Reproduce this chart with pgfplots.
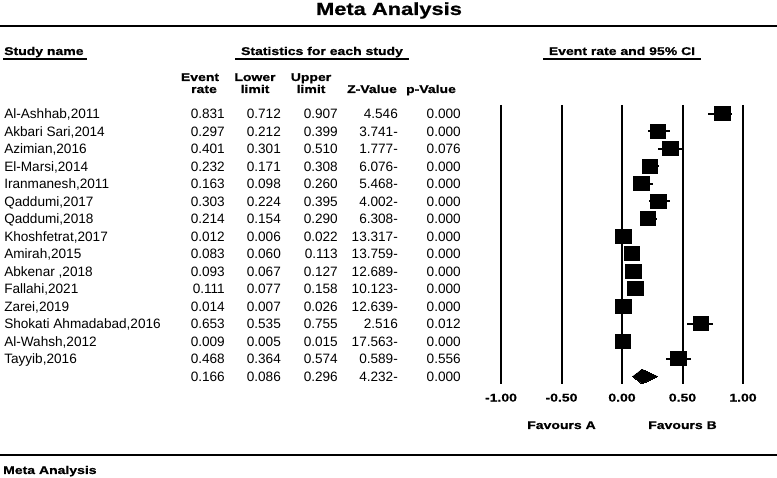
\documentclass[border=0pt]{standalone}
\usepackage{fontspec}
\setmainfont{Liberation Sans}
\newfontfamily\wide[FakeStretch=1.25, FakeBold=0.8]{Liberation Sans}
\usepackage{pgfplots}
\usepackage{pgfplotstable}
\pgfplotsset{compat=1.18}

\newcommand\rg{\fontsize{13.6pt}{16pt}\selectfont}
\newcommand\hb{\wide\bfseries\fontsize{11.2pt}{12pt}\selectfont}

% one row per study, last row = pooled estimate
\pgfplotstableread[col sep=semicolon]{
name;er;ll;ul;z;p
Al-Ashhab,2011;0.831;0.712;0.907;4.546;0.000
Akbari Sari,2014;0.297;0.212;0.399;3.741-;0.000
Azimian,2016;0.401;0.301;0.510;1.777-;0.076
El-Marsi,2014;0.232;0.171;0.308;6.076-;0.000
Iranmanesh,2011;0.163;0.098;0.260;5.468-;0.000
Qaddumi,2017;0.303;0.224;0.395;4.002-;0.000
Qaddumi,2018;0.214;0.154;0.290;6.308-;0.000
Khoshfetrat,2017;0.012;0.006;0.022;13.317-;0.000
Amirah,2015;0.083;0.060;0.113;13.759-;0.000
Abkenar ,2018;0.093;0.067;0.127;12.689-;0.000
Fallahi,2021;0.111;0.077;0.158;10.123-;0.000
Zarei,2019;0.014;0.007;0.026;12.639-;0.000
Shokati Ahmadabad,2016;0.653;0.535;0.755;2.516;0.012
Al-Wahsh,2012;0.009;0.005;0.015;17.563-;0.000
Tayyib,2016;0.468;0.364;0.574;0.589-;0.556
;0.166;0.086;0.296;4.232-;0.000
}\studies

% text column: meta column, x position, anchor
\newcommand\textcol[3]{%
  \addplot[draw=none, forget plot, point meta=explicit symbolic,
    nodes near coords,
    nodes near coords style={anchor=#3, inner sep=0pt, yshift=-5pt, font=\rg}]
    table[x expr=#2, y expr=\coordindex+1, meta=#1] {\studies};}

\begin{document}
\begin{tikzpicture}
\useasboundingbox (0,0) rectangle (777pt,478pt);
\begin{axis}[
    at={(0,0)}, anchor=south west,
    scale only axis, width=777pt, height=478pt,
    xmin=-5.1405, xmax=1.2810,
    ymin=-5.5143, ymax=21.8, y dir=reverse,
    hide axis, clip=false]

  % reference lines
  \pgfplotsinvokeforeach{-1,-0.5,0,0.5,1}{
    \addplot[black, line width=2pt, forget plot] coordinates {(#1,0.4857) (#1,16.4286)};
  }

  % study squares with CI whiskers
  \addplot[only marks, mark=square*, mark size=7pt,
    mark options={xscale=1.12, fill=black, draw=black, line width=0pt},
    skip coords between index={15}{16},
    error bars/.cd, x dir=both, x explicit, error mark=none,
    error bar style={line width=2pt, black}]
    table[x=er, y expr=\coordindex+1,
      x error minus expr=\thisrow{er}-\thisrow{ll},
      x error plus expr=\thisrow{ul}-\thisrow{er}] {\studies};

  % pooled diamond
  \addplot[fill=black, draw=black, line width=0pt]
    coordinates {(0.086,16) (0.166,15.58) (0.296,16) (0.166,16.42)} --cycle;

  \textcol{name}{-5.107}{base west}
  \textcol{er}{-3.281}{base east}
  \textcol{ll}{-2.818}{base east}
  \textcol{ul}{-2.347}{base east}
  \textcol{z}{-1.851}{base east}
  \textcol{p}{-1.331}{base east}

  \node[font=\hb, anchor=base] at (axis cs:-1,17.43) {-1.00};
  \node[font=\hb, anchor=base] at (axis cs:-0.5,17.43) {-0.50};
  \node[font=\hb, anchor=base] at (axis cs:0,17.43) {0.00};
  \node[font=\hb, anchor=base] at (axis cs:0.5,17.43) {0.50};
  \node[font=\hb, anchor=base] at (axis cs:1,17.43) {1.00};
  \node[font=\hb, anchor=base] at (axis cs:-0.5,19.0) {Favours A};
  \node[font=\hb, anchor=base] at (axis cs:0.5,19.0) {Favours B};
\end{axis}

\begin{scope}[x=1pt, y=-1pt, yshift=478pt]
  \node[font=\wide\bfseries\fontsize{17.5pt}{20pt}\selectfont, anchor=base, inner sep=0pt] at (389,15) {Meta Analysis};
  \draw[line width=2.5pt] (0,26) -- (777,26);

  \node[font=\hb, anchor=base west, inner sep=0pt] at (4,55) {Study name};
  \draw[line width=1.5pt] (3,59) -- (87,59);
  \node[font=\hb, anchor=base, inner sep=0pt] at (322,55) {Statistics for each study};
  \draw[line width=1.5pt] (235,59) -- (409,59);
  \node[font=\hb, anchor=base, inner sep=0pt] at (622,55) {Event rate and 95\% CI};
  \draw[line width=1.5pt] (543,59) -- (701,59);

  \node[font=\hb, anchor=base, inner sep=0pt] at (200,81) {Event};
  \node[font=\hb, anchor=base, inner sep=0pt] at (204,93) {rate};
  \node[font=\hb, anchor=base, inner sep=0pt] at (255,81) {Lower};
  \node[font=\hb, anchor=base, inner sep=0pt] at (255,93) {limit};
  \node[font=\hb, anchor=base, inner sep=0pt] at (311,81) {Upper};
  \node[font=\hb, anchor=base, inner sep=0pt] at (311,93) {limit};
  \node[font=\hb, anchor=base, inner sep=0pt] at (372,93) {Z-Value};
  \node[font=\hb, anchor=base, inner sep=0pt] at (431,93) {p-Value};

  \draw[line width=2.5pt] (0,455) -- (777,455);
  \node[font=\hb, anchor=base west, inner sep=0pt] at (3,474) {Meta Analysis};
\end{scope}
\end{tikzpicture}
\end{document}
